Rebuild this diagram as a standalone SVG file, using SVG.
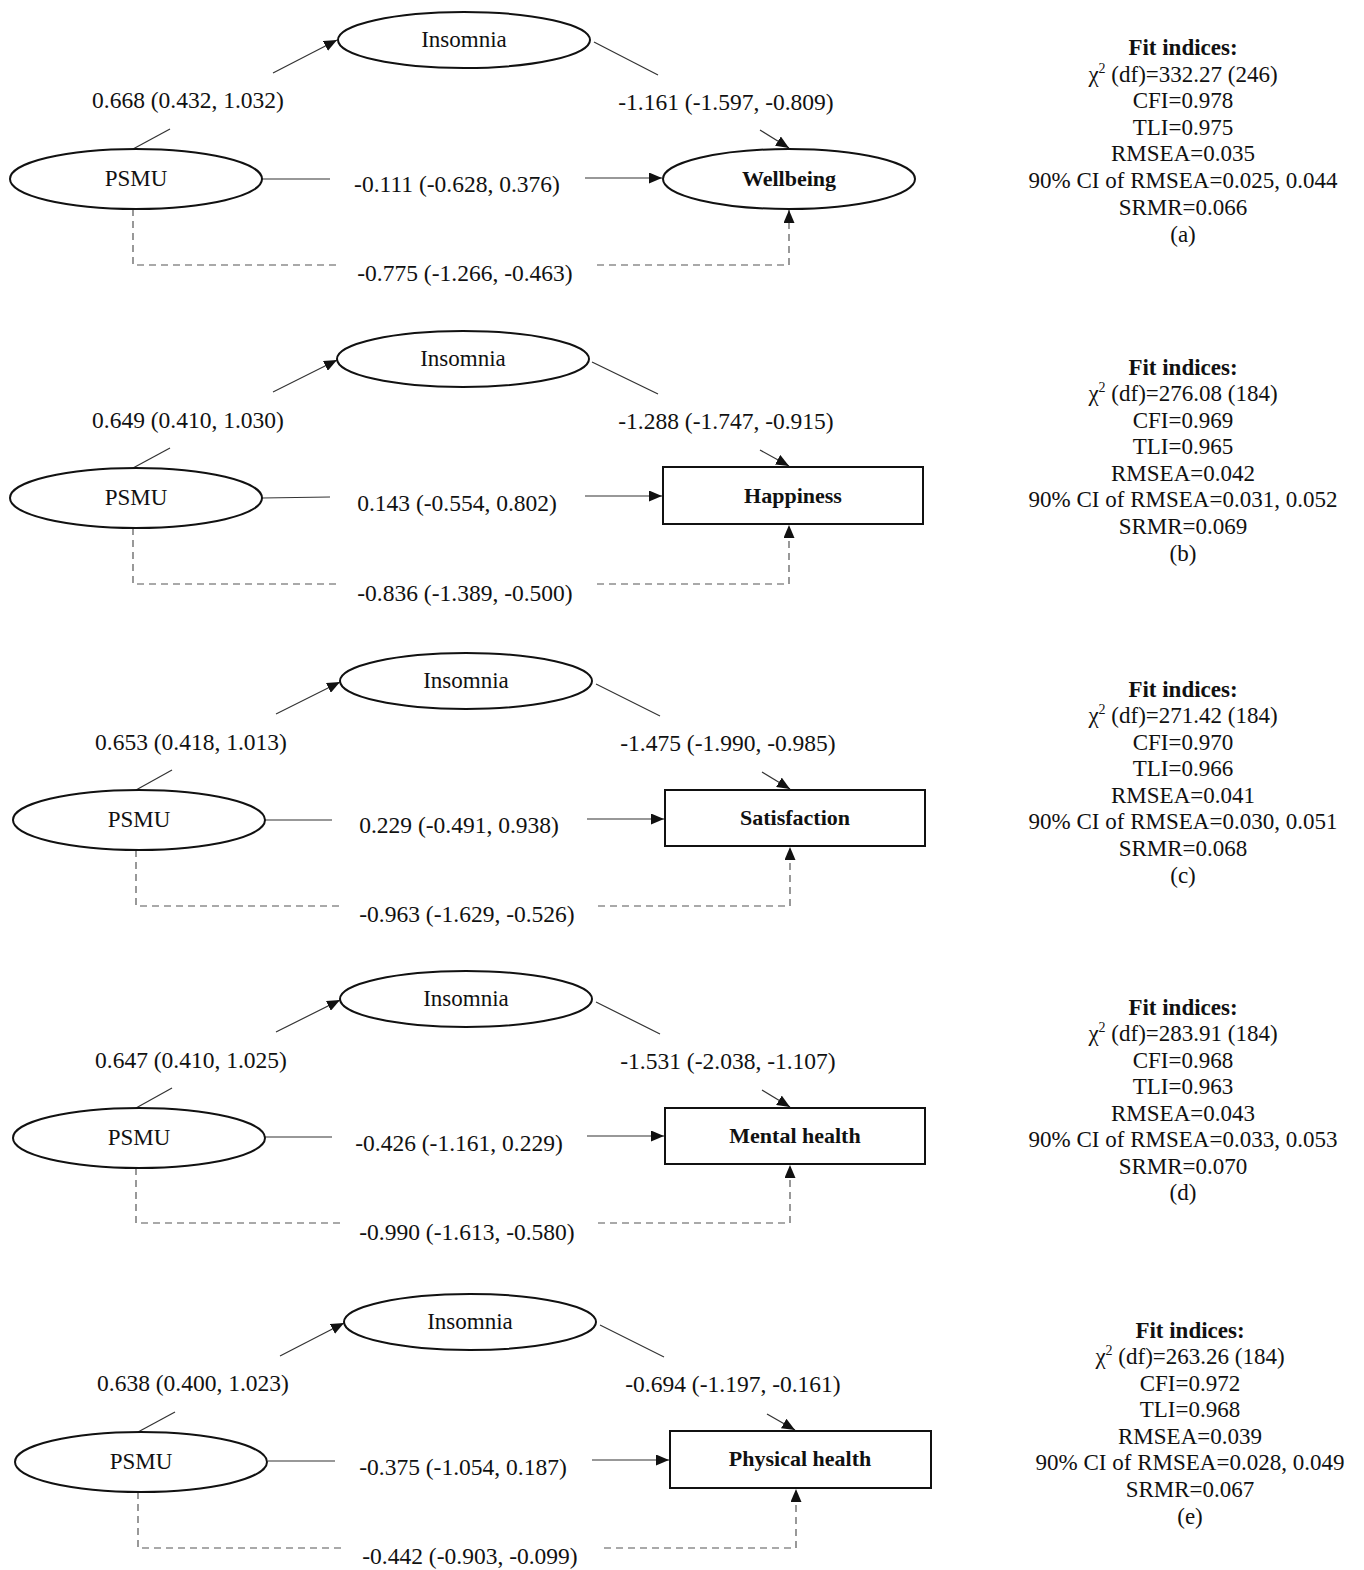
<svg xmlns="http://www.w3.org/2000/svg" width="1364" height="1570" viewBox="0 0 1364 1570">
<style>
text{font-family:"Liberation Serif","Times New Roman",serif;fill:#111;}
.lbl{font-size:23.5px;text-anchor:middle;}
.node{font-size:22px;font-weight:bold;text-anchor:middle;}
.lat{font-size:23px;text-anchor:middle;}
.fit{font-size:23px;text-anchor:middle;}
.fith{font-size:23px;font-weight:bold;text-anchor:middle;}
.shape{fill:#fff;stroke:#111;stroke-width:2;}
.ln{fill:none;stroke:#333;stroke-width:1.2;}
.ar{fill:none;stroke:#333;stroke-width:1.2;marker-end:url(#ah);}
.dash{fill:none;stroke:#555;stroke-width:1.2;stroke-dasharray:7,5;}
.dashar{fill:none;stroke:#555;stroke-width:1.2;stroke-dasharray:7,5;marker-end:url(#ah);}
</style>
<defs>
<marker id="ah" markerUnits="userSpaceOnUse" markerWidth="13" markerHeight="11" refX="13" refY="5.5" orient="auto">
<path d="M0,0 L13,5.5 L0,11 z" fill="#111"/>
</marker>
</defs>
<rect width="1364" height="1570" fill="#fff"/>

<g id="connectors">
<!-- panel a -->
<line class="ln" x1="133" y1="149" x2="170" y2="129"/>
<line class="ar" x1="273" y1="73" x2="337" y2="40"/>
<line class="ln" x1="594" y1="42" x2="658" y2="75"/>
<line class="ar" x1="760" y1="130" x2="789" y2="148"/>
<line class="ln" x1="262" y1="179" x2="330" y2="179"/>
<line class="ar" x1="585" y1="178" x2="662" y2="178"/>
<path class="dash" d="M133,209 V265 H340"/>
<path class="dashar" d="M597,265 H789 V210"/>
<!-- panel b -->
<line class="ln" x1="133" y1="468" x2="170" y2="448"/>
<line class="ar" x1="273" y1="392" x2="337" y2="360"/>
<line class="ln" x1="592" y1="362" x2="658" y2="394"/>
<line class="ar" x1="760" y1="450" x2="789" y2="466"/>
<line class="ln" x1="262" y1="498" x2="330" y2="497"/>
<line class="ar" x1="585" y1="496" x2="662" y2="496"/>
<path class="dash" d="M133,528 V584 H340"/>
<path class="dashar" d="M597,584 H789 V525"/>
<!-- panel c -->
<line class="ln" x1="136" y1="790" x2="172" y2="770"/>
<line class="ar" x1="276" y1="714" x2="340" y2="682"/>
<line class="ln" x1="596" y1="684" x2="660" y2="716"/>
<line class="ar" x1="762" y1="772" x2="790" y2="789"/>
<line class="ln" x1="265" y1="820" x2="332" y2="820"/>
<line class="ar" x1="587" y1="819" x2="664" y2="819"/>
<path class="dash" d="M136,850 V906 H342"/>
<path class="dashar" d="M598,906 H790 V847"/>
<!-- panel d -->
<line class="ln" x1="136" y1="1108" x2="172" y2="1088"/>
<line class="ar" x1="276" y1="1032" x2="340" y2="1000"/>
<line class="ln" x1="596" y1="1002" x2="660" y2="1034"/>
<line class="ar" x1="762" y1="1090" x2="790" y2="1107"/>
<line class="ln" x1="265" y1="1137" x2="332" y2="1137"/>
<line class="ar" x1="587" y1="1136" x2="664" y2="1136"/>
<path class="dash" d="M136,1168 V1223 H342"/>
<path class="dashar" d="M598,1223 H790 V1165"/>
<!-- panel e -->
<line class="ln" x1="138" y1="1432" x2="175" y2="1412"/>
<line class="ar" x1="280" y1="1356" x2="344" y2="1323"/>
<line class="ln" x1="600" y1="1325" x2="664" y2="1357"/>
<line class="ar" x1="767" y1="1414" x2="795" y2="1430"/>
<line class="ln" x1="268" y1="1461" x2="335" y2="1461"/>
<line class="ar" x1="592" y1="1460" x2="669" y2="1460"/>
<path class="dash" d="M138,1492 V1548 H345"/>
<path class="dashar" d="M604,1548 H796 V1489"/>
</g>

<g id="edge-labels">
<text class="lbl" x="188" y="108">0.668 (0.432, 1.032)</text>
<text class="lbl" x="726" y="110">-1.161 (-1.597, -0.809)</text>
<text class="lbl" x="457" y="192">-0.111 (-0.628, 0.376)</text>
<text class="lbl" x="465" y="281">-0.775 (-1.266, -0.463)</text>

<text class="lbl" x="188" y="428">0.649 (0.410, 1.030)</text>
<text class="lbl" x="726" y="429">-1.288 (-1.747, -0.915)</text>
<text class="lbl" x="457" y="511">0.143 (-0.554, 0.802)</text>
<text class="lbl" x="465" y="601">-0.836 (-1.389, -0.500)</text>

<text class="lbl" x="191" y="750">0.653 (0.418, 1.013)</text>
<text class="lbl" x="728" y="751">-1.475 (-1.990, -0.985)</text>
<text class="lbl" x="459" y="833">0.229 (-0.491, 0.938)</text>
<text class="lbl" x="467" y="922">-0.963 (-1.629, -0.526)</text>

<text class="lbl" x="191" y="1068">0.647 (0.410, 1.025)</text>
<text class="lbl" x="728" y="1069">-1.531 (-2.038, -1.107)</text>
<text class="lbl" x="459" y="1151">-0.426 (-1.161, 0.229)</text>
<text class="lbl" x="467" y="1240">-0.990 (-1.613, -0.580)</text>

<text class="lbl" x="193" y="1391">0.638 (0.400, 1.023)</text>
<text class="lbl" x="733" y="1392">-0.694 (-1.197, -0.161)</text>
<text class="lbl" x="463" y="1475">-0.375 (-1.054, 0.187)</text>
<text class="lbl" x="470" y="1564">-0.442 (-0.903, -0.099)</text>
</g>

<!-- panel a nodes -->
<g id="a-insomnia"><ellipse class="shape" cx="464" cy="40" rx="126" ry="28"/><text class="lat" x="464" y="47">Insomnia</text></g>
<g id="a-psmu"><ellipse class="shape" cx="136" cy="179" rx="126" ry="30"/><text class="lat" x="136" y="186">PSMU</text></g>
<g id="a-wellbeing"><ellipse class="shape" cx="789" cy="179" rx="126" ry="30"/><text class="node" x="789" y="186">Wellbeing</text></g>
<!-- panel b nodes -->
<g id="b-insomnia"><ellipse class="shape" cx="463" cy="359" rx="126" ry="28"/><text class="lat" x="463" y="366">Insomnia</text></g>
<g id="b-psmu"><ellipse class="shape" cx="136" cy="498" rx="126" ry="30"/><text class="lat" x="136" y="505">PSMU</text></g>
<g id="b-happiness"><rect class="shape" x="663" y="467" width="260" height="57"/><text class="node" x="793" y="503">Happiness</text></g>
<!-- panel c nodes -->
<g id="c-insomnia"><ellipse class="shape" cx="466" cy="681" rx="126" ry="28"/><text class="lat" x="466" y="688">Insomnia</text></g>
<g id="c-psmu"><ellipse class="shape" cx="139" cy="820" rx="126" ry="30"/><text class="lat" x="139" y="827">PSMU</text></g>
<g id="c-satisfaction"><rect class="shape" x="665" y="790" width="260" height="56"/><text class="node" x="795" y="825">Satisfaction</text></g>
<!-- panel d nodes -->
<g id="d-insomnia"><ellipse class="shape" cx="466" cy="999" rx="126" ry="28"/><text class="lat" x="466" y="1006">Insomnia</text></g>
<g id="d-psmu"><ellipse class="shape" cx="139" cy="1138" rx="126" ry="30"/><text class="lat" x="139" y="1145">PSMU</text></g>
<g id="d-mental"><rect class="shape" x="665" y="1108" width="260" height="56"/><text class="node" x="795" y="1143">Mental health</text></g>
<!-- panel e nodes -->
<g id="e-insomnia"><ellipse class="shape" cx="470" cy="1322" rx="126" ry="28"/><text class="lat" x="470" y="1329">Insomnia</text></g>
<g id="e-psmu"><ellipse class="shape" cx="141" cy="1462" rx="126" ry="30"/><text class="lat" x="141" y="1469">PSMU</text></g>
<g id="e-physical"><rect class="shape" x="670" y="1431" width="261" height="57"/><text class="node" x="800" y="1466">Physical health</text></g>

<!-- fit indices -->
<g id="fit-a">
<text class="fith" x="1183" y="55">Fit indices:</text>
<text class="fit" x="1183" y="82">χ<tspan font-size="14" dy="-9">2</tspan><tspan dy="9"> (df)=332.27 (246)</tspan></text>
<text class="fit" x="1183" y="108">CFI=0.978</text>
<text class="fit" x="1183" y="135">TLI=0.975</text>
<text class="fit" x="1183" y="161">RMSEA=0.035</text>
<text class="fit" x="1183" y="188">90% CI of RMSEA=0.025, 0.044</text>
<text class="fit" x="1183" y="215">SRMR=0.066</text>
<text class="fit" x="1183" y="242">(a)</text>
</g>
<g id="fit-b">
<text class="fith" x="1183" y="375">Fit indices:</text>
<text class="fit" x="1183" y="401">χ<tspan font-size="14" dy="-9">2</tspan><tspan dy="9"> (df)=276.08 (184)</tspan></text>
<text class="fit" x="1183" y="428">CFI=0.969</text>
<text class="fit" x="1183" y="454">TLI=0.965</text>
<text class="fit" x="1183" y="481">RMSEA=0.042</text>
<text class="fit" x="1183" y="507">90% CI of RMSEA=0.031, 0.052</text>
<text class="fit" x="1183" y="534">SRMR=0.069</text>
<text class="fit" x="1183" y="561">(b)</text>
</g>
<g id="fit-c">
<text class="fith" x="1183" y="697">Fit indices:</text>
<text class="fit" x="1183" y="723">χ<tspan font-size="14" dy="-9">2</tspan><tspan dy="9"> (df)=271.42 (184)</tspan></text>
<text class="fit" x="1183" y="750">CFI=0.970</text>
<text class="fit" x="1183" y="776">TLI=0.966</text>
<text class="fit" x="1183" y="803">RMSEA=0.041</text>
<text class="fit" x="1183" y="829">90% CI of RMSEA=0.030, 0.051</text>
<text class="fit" x="1183" y="856">SRMR=0.068</text>
<text class="fit" x="1183" y="883">(c)</text>
</g>
<g id="fit-d">
<text class="fith" x="1183" y="1015">Fit indices:</text>
<text class="fit" x="1183" y="1041">χ<tspan font-size="14" dy="-9">2</tspan><tspan dy="9"> (df)=283.91 (184)</tspan></text>
<text class="fit" x="1183" y="1068">CFI=0.968</text>
<text class="fit" x="1183" y="1094">TLI=0.963</text>
<text class="fit" x="1183" y="1121">RMSEA=0.043</text>
<text class="fit" x="1183" y="1147">90% CI of RMSEA=0.033, 0.053</text>
<text class="fit" x="1183" y="1174">SRMR=0.070</text>
<text class="fit" x="1183" y="1200">(d)</text>
</g>
<g id="fit-e">
<text class="fith" x="1190" y="1338">Fit indices:</text>
<text class="fit" x="1190" y="1364">χ<tspan font-size="14" dy="-9">2</tspan><tspan dy="9"> (df)=263.26 (184)</tspan></text>
<text class="fit" x="1190" y="1391">CFI=0.972</text>
<text class="fit" x="1190" y="1417">TLI=0.968</text>
<text class="fit" x="1190" y="1444">RMSEA=0.039</text>
<text class="fit" x="1190" y="1470">90% CI of RMSEA=0.028, 0.049</text>
<text class="fit" x="1190" y="1497">SRMR=0.067</text>
<text class="fit" x="1190" y="1524">(e)</text>
</g>
</svg>
